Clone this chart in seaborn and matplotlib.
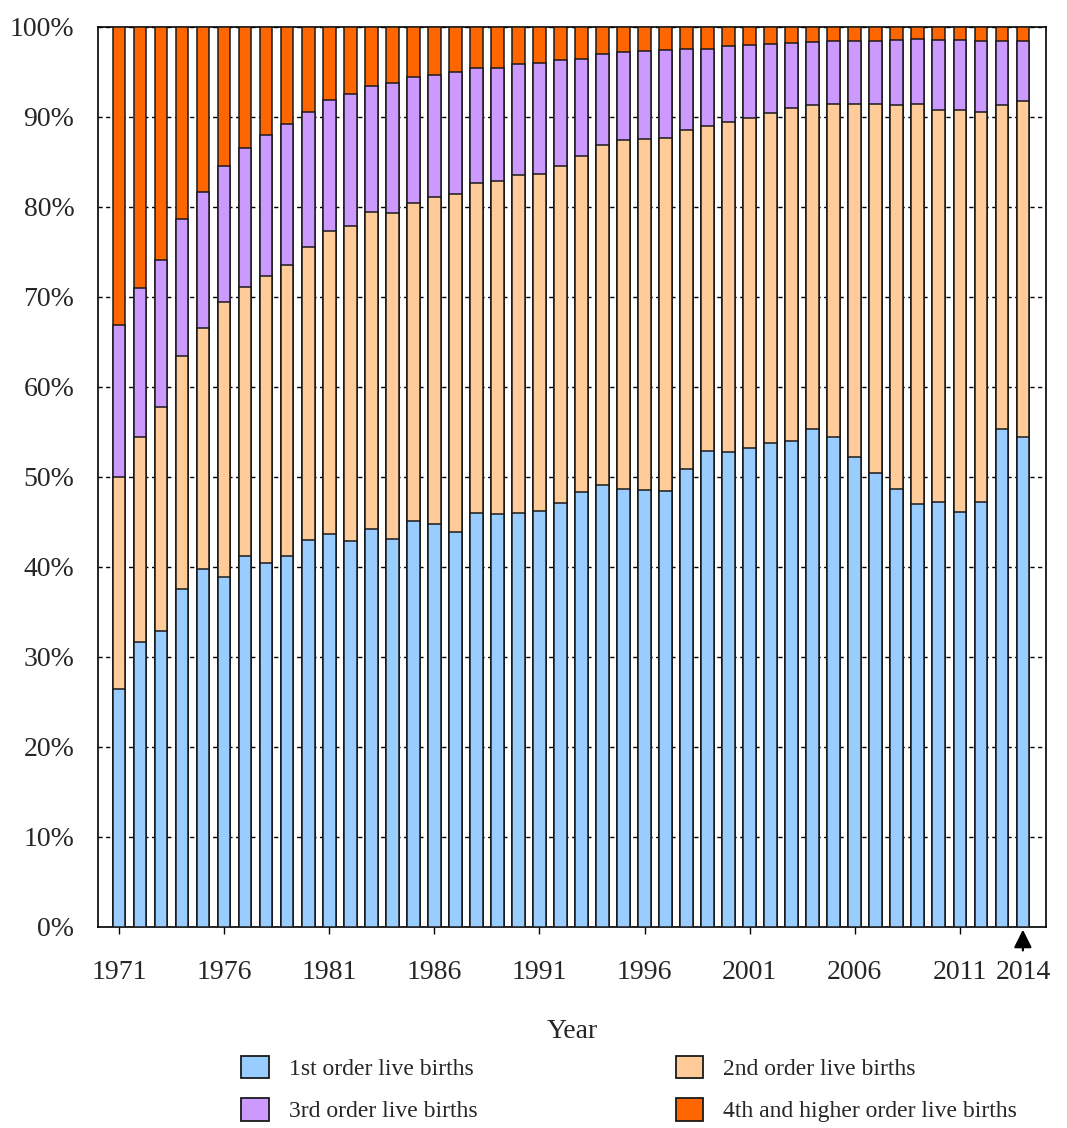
import numpy as np
import pandas as pd
import seaborn as sns
import matplotlib
matplotlib.use("Agg")
import matplotlib.pyplot as plt
from matplotlib.patches import Patch

years = list(range(1971, 2015))
first_order = [26.5, 31.7, 32.9, 37.6, 39.8, 38.9, 41.2, 40.4, 41.2, 43.0,
               43.7, 42.9, 44.2, 43.1, 45.1, 44.8, 43.9, 46.0, 45.9, 46.0,
               46.2, 47.1, 48.3, 49.1, 48.7, 48.6, 48.5, 50.9, 52.9, 52.8,
               53.2, 53.8, 54.0, 55.3, 54.4, 52.2, 50.5, 48.7, 47.0, 47.2,
               46.1, 47.2, 55.3, 54.5]
second_order = [23.5, 22.8, 24.9, 25.9, 26.8, 30.6, 29.9, 31.9, 32.4, 32.6,
                33.6, 35.0, 35.2, 36.2, 35.4, 36.3, 37.6, 36.7, 37.0, 37.6,
                37.5, 37.5, 37.4, 37.8, 38.7, 39.0, 39.2, 37.7, 36.1, 36.6,
                36.7, 36.6, 37.0, 36.0, 37.1, 39.3, 40.9, 42.6, 44.5, 43.6,
                44.7, 43.4, 36.0, 37.3]
third_order = [16.9, 16.5, 16.3, 15.2, 15.1, 15.1, 15.5, 15.7, 15.6, 15.0,
               14.6, 14.7, 14.0, 14.5, 13.9, 13.6, 13.5, 12.8, 12.6, 12.3,
               12.3, 11.7, 10.8, 10.1, 9.8, 9.7, 9.7, 9.0, 8.6, 8.5,
               8.1, 7.7, 7.2, 7.0, 6.9, 7.0, 7.1, 7.3, 7.2, 7.7,
               7.8, 7.8, 7.1, 6.6]
fourth_order = [33.1, 29.0, 25.9, 21.3, 18.3, 15.4, 13.4, 12.0, 10.8, 9.4,
                8.1, 7.4, 6.6, 6.2, 5.6, 5.3, 5.0, 4.5, 4.5, 4.1,
                4.0, 3.7, 3.5, 3.0, 2.8, 2.7, 2.6, 2.4, 2.4, 2.1,
                2.0, 1.9, 1.8, 1.7, 1.6, 1.5, 1.5, 1.4, 1.3, 1.5,
                1.4, 1.6, 1.6, 1.6]
series_names = ["1st order live births", "2nd order live births",
                "3rd order live births", "4th and higher order live births"]
series_colors = ["#99CCFF", "#FFCC99", "#CC99FF", "#FF6600"]
tick_years = [1971, 1976, 1981, 1986, 1991, 1996, 2001, 2006, 2011, 2014]

sns.set_theme(style="white")
plt.rcParams["font.family"] = ["Liberation Serif", "DejaVu Serif"]

df = pd.DataFrame({"Year": [str(y) for y in years]})
c1 = np.array(first_order)
c2 = c1 + np.array(second_order)
c3 = c2 + np.array(third_order)
c4 = c3 + np.array(fourth_order)
df["c1"], df["c2"], df["c3"], df["c4"] = c1, c2, c3, c4

fig = plt.figure(figsize=(10.67, 11.28), dpi=100)
ax = fig.add_axes([98 / 1067, 1 - 927 / 1128, (1046 - 98) / 1067, 900 / 1128])

order = [str(y) for y in years]
for col, colr in zip(["c4", "c3", "c2", "c1"], series_colors[::-1]):
    sns.barplot(data=df, x="Year", y=col, order=order, color=colr,
                saturation=1, width=0.6, edgecolor="#1a1a1a", linewidth=1.1,
                errorbar=None, ax=ax, zorder=3)

ax.set_ylim(0, 100)
ax.set_xlim(-1.0, 44.1)
ax.set_yticks(range(0, 101, 10))
ax.set_yticklabels([f"{v}%" for v in range(0, 101, 10)], fontsize=20)
ax.yaxis.grid(True, linestyle=(0, (3, 2.5)), color="black", linewidth=1.0)
ax.xaxis.grid(False)
ax.set_axisbelow(True)

tick_pos = [years.index(y) for y in tick_years]
ax.set_xticks(tick_pos)
ax.set_xticklabels([str(y) for y in tick_years], fontsize=20)
ax.tick_params(axis="x", bottom=True, length=5, width=1, color="black", pad=19)
ax.tick_params(axis="y", left=False, length=0, pad=17)
ax.xaxis.get_major_ticks()[-1].tick1line.set_visible(False)

for s in ax.spines.values():
    s.set_visible(True)
    s.set_color("black")
    s.set_linewidth(1.2)

ax.annotate("", xy=(tick_pos[-1], -0.3), xytext=(tick_pos[-1], -2.6),
            arrowprops=dict(arrowstyle="-|>,head_length=0.9,head_width=0.45",
                            color="black", lw=1.6, shrinkA=0, shrinkB=0,
                            mutation_scale=12),
            annotation_clip=False)

ax.set_xlabel("Year", fontsize=20, labelpad=24)
ax.set_ylabel("")

handles = [Patch(facecolor=c, edgecolor="#1a1a1a", linewidth=1.3) for c in series_colors]
order_idx = [0, 2, 1, 3]
fig.legend([handles[i] for i in order_idx], [series_names[i] for i in order_idx],
           ncol=2, loc="center", bbox_to_anchor=(629 / 1067, 1 - 1089 / 1128),
           frameon=False, fontsize=17, handlelength=1.15, handleheight=1.1,
           handletextpad=0.85, columnspacing=8.4, labelspacing=0.75,
           borderpad=0.1)

fig.savefig("out.png", dpi=100)
